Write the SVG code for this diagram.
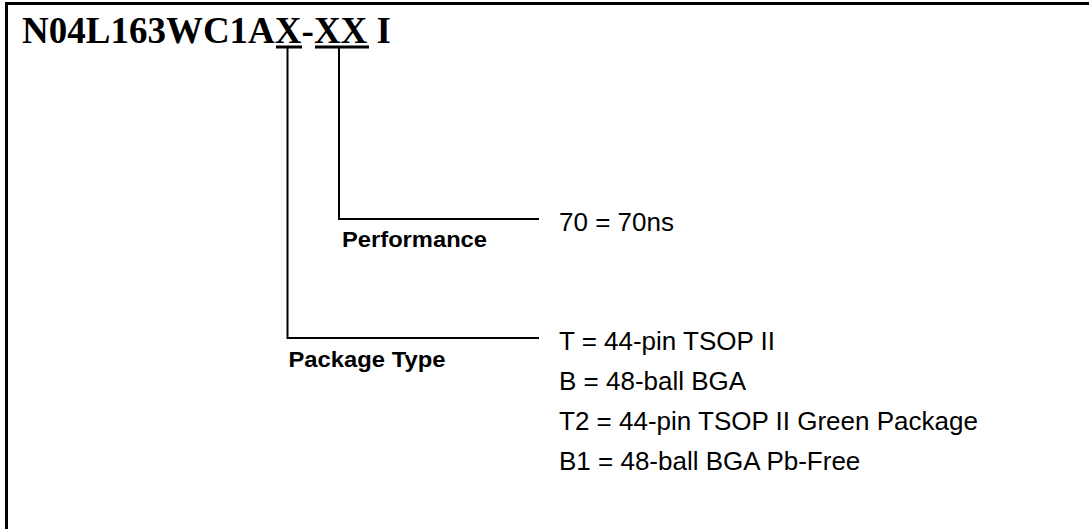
<svg xmlns="http://www.w3.org/2000/svg" width="1089" height="529" viewBox="0 0 1089 529">
  <style>
    .frame { stroke: #000; stroke-width: 3; fill: none; }
    .ul { stroke: #000; stroke-width: 3; }
    .conn { stroke: #000; stroke-width: 2; fill: none; }
    .title { font-family: "Liberation Serif", "Times New Roman", serif; font-weight: bold; font-size: 37px; fill: #000; }
    .label { font-family: "Liberation Sans", Arial, sans-serif; font-weight: bold; font-size: 22.5px; fill: #000; }
    .opt { font-family: "Liberation Sans", Arial, sans-serif; font-size: 26px; fill: #000; }
  </style>
  <rect width="1089" height="529" fill="#fff"/>
  <g id="frame">
    <line class="frame" x1="6.5" y1="3.5" x2="1089" y2="3.5"/>
    <line class="frame" x1="6.5" y1="2" x2="6.5" y2="529"/>
  </g>
  <g id="part-number">
    <text class="title" x="22" y="43">N04L163WC1AX-XX I</text>
    <line class="ul" x1="276" y1="47" x2="302" y2="47"/>
    <line class="ul" x1="315" y1="47" x2="369" y2="47"/>
  </g>
  <g id="connectors">
    <polyline class="conn" points="339,47 339,219 539,219"/>
    <polyline class="conn" points="287.5,47 287.5,338 539,338"/>
  </g>
  <g id="performance">
    <text class="label" x="342" y="246.5" textLength="145" lengthAdjust="spacingAndGlyphs">Performance</text>
    <text class="opt" x="559" y="231">70 = 70ns</text>
  </g>
  <g id="package-type">
    <text class="label" x="288.5" y="366.5" textLength="157" lengthAdjust="spacingAndGlyphs">Package Type</text>
    <text class="opt" x="559" y="350">T = 44-pin TSOP II</text>
    <text class="opt" x="559" y="390">B = 48-ball BGA</text>
    <text class="opt" x="559" y="430">T2 = 44-pin TSOP II Green Package</text>
    <text class="opt" x="559" y="470">B1 = 48-ball BGA Pb-Free</text>
  </g>
</svg>
